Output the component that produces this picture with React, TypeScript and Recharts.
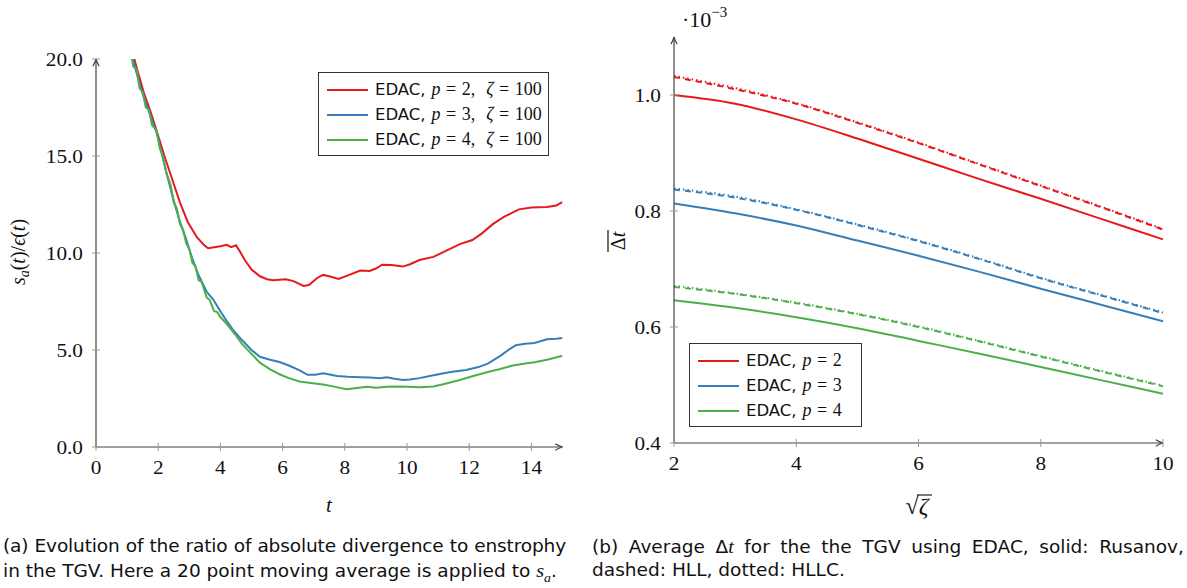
import { Legend, Line, LineChart, XAxis, YAxis } from "recharts";

const RED = "#e41a1c";
const BLUE = "#377eb8";
const GREEN = "#4daf4a";
const AXIS = "#444";
const TICK = "#999";
const SERIF = "'Liberation Serif', 'Times New Roman', serif";
const SANS = "'DejaVu Sans', sans-serif";

// (a) s_a(t)/eps(t), 20 point moving average
const tP2 = [1.15, 1.35, 1.55, 1.75, 1.95, 2.2, 2.45, 2.7, 2.95, 3.25, 3.45, 3.6, 3.8, 4.0, 4.2, 4.35, 4.5, 4.6, 4.8, 5.0, 5.27, 5.5, 5.7, 6.1, 6.35, 6.67, 6.85, 7.1, 7.3, 7.5, 7.8, 8.1, 8.5, 8.8, 9.0, 9.2, 9.5, 9.87, 10.1, 10.4, 10.85, 11.3, 11.7, 12.1, 12.4, 12.77, 13.1, 13.6, 14.0, 14.5, 14.8, 15.0];
const sP2 = [20.5, 19.3, 18.2, 17.3, 16.3, 15.0, 13.8, 12.6, 11.6, 10.8, 10.45, 10.25, 10.3, 10.35, 10.42, 10.3, 10.4, 10.15, 9.6, 9.15, 8.8, 8.65, 8.6, 8.65, 8.55, 8.3, 8.35, 8.7, 8.87, 8.8, 8.66, 8.85, 9.1, 9.07, 9.2, 9.4, 9.38, 9.3, 9.42, 9.64, 9.8, 10.15, 10.46, 10.67, 11.0, 11.5, 11.85, 12.25, 12.35, 12.37, 12.45, 12.62];

const tP3 = [1.1, 1.3, 1.5, 1.7, 1.95, 2.1, 2.27, 2.5, 2.7, 2.9, 3.1, 3.3, 3.56, 3.77, 4.0, 4.2, 4.4, 4.7, 5.0, 5.27, 5.6, 5.9, 6.2, 6.55, 6.8, 7.05, 7.3, 7.55, 7.75, 8.1, 8.5, 8.8, 9.13, 9.35, 9.6, 9.87, 10.1, 10.4, 10.85, 11.1, 11.4, 11.9, 12.3, 12.6, 13.0, 13.3, 13.5, 13.8, 14.1, 14.5, 14.8, 15.0];
const sP3 = [20.5, 19.3, 18.2, 17.3, 16.2, 15.2, 14.1, 12.7, 11.6, 10.7, 9.7, 8.85, 8.0, 7.6, 7.0, 6.5, 6.05, 5.5, 5.0, 4.65, 4.5, 4.38, 4.2, 3.95, 3.72, 3.72, 3.8, 3.72, 3.66, 3.62, 3.6, 3.58, 3.55, 3.6, 3.52, 3.45, 3.48, 3.55, 3.7, 3.78, 3.87, 3.97, 4.12, 4.3, 4.7, 5.05, 5.25, 5.32, 5.36, 5.55, 5.58, 5.62];

const tP4 = [1.1, 1.2, 1.3, 1.4, 1.5, 1.6, 1.7, 1.8, 1.95, 2.05, 2.15, 2.27, 2.4, 2.5, 2.6, 2.7, 2.8, 2.9, 3.0, 3.1, 3.2, 3.3, 3.4, 3.56, 3.65, 3.8, 3.9, 4.0, 4.2, 4.45, 4.7, 5.0, 5.27, 5.6, 5.9, 6.2, 6.55, 6.9, 7.3, 7.7, 8.05, 8.4, 8.7, 9.0, 9.35, 9.7, 10.0, 10.4, 10.85, 11.2, 11.7, 12.1, 12.6, 13.0, 13.4, 13.8, 14.1, 14.5, 15.0];
const sP4 = [20.5, 19.6, 19.5, 18.5, 18.3, 17.5, 17.4, 16.6, 16.3, 15.4, 15.0, 14.1, 13.5, 12.6, 12.3, 11.5, 11.2, 10.5, 10.2, 9.5, 9.3, 8.6, 8.5, 7.7, 7.6, 7.0, 6.95, 6.7, 6.35, 5.85, 5.3, 4.8, 4.35, 4.0, 3.75, 3.55, 3.38, 3.3, 3.22, 3.1, 2.98, 3.04, 3.1, 3.06, 3.1, 3.12, 3.1, 3.08, 3.12, 3.25, 3.45, 3.65, 3.87, 4.02, 4.2, 4.3, 4.37, 4.5, 4.7];

const tTicks = [0, 2, 4, 6, 8, 10, 12, 14];
const sTicks = [0, 5, 10, 15, 20];

// (b) mean time step (x 1e-3) against sqrt(zeta)
const sqrtZeta = [2, 3, 4, 5, 6, 7, 8, 9, 10];
const rusanovP2 = [1.0, 0.985, 0.958, 0.925, 0.89, 0.855, 0.821, 0.786, 0.751];
const hllP2 = [1.031, 1.01, 0.985, 0.952, 0.917, 0.88, 0.843, 0.806, 0.768];
const hllcP2 = [1.033, 1.012, 0.986, 0.953, 0.918, 0.881, 0.844, 0.807, 0.769];
const rusanovP3 = [0.813, 0.796, 0.775, 0.749, 0.723, 0.695, 0.666, 0.638, 0.61];
const hllP3 = [0.837, 0.823, 0.802, 0.776, 0.748, 0.717, 0.684, 0.654, 0.624];
const hllcP3 = [0.839, 0.825, 0.803, 0.777, 0.749, 0.718, 0.685, 0.655, 0.625];
const rusanovP4 = [0.646, 0.633, 0.617, 0.598, 0.576, 0.554, 0.531, 0.508, 0.485];
const hllP4 = [0.669, 0.657, 0.641, 0.622, 0.6, 0.575, 0.549, 0.523, 0.498];
const hllcP4 = [0.671, 0.658, 0.642, 0.623, 0.601, 0.576, 0.55, 0.524, 0.499];

const zetaTicks = [2, 4, 6, 8, 10];
const dtTicks = [0.4, 0.6, 0.8, 1.0];

const orders = [2, 3, 4];
const colors = [RED, BLUE, GREEN];

const zip = (ts: number[], ss: number[]) => ts.map((t, i) => ({ t, s: ss[i] }));
const seriesA = [zip(tP2, sP2), zip(tP3, sP3), zip(tP4, sP4)];

const dataB = sqrtZeta.map((z, i) => ({
  z,
  r2: rusanovP2[i], h2: hllP2[i], c2: hllcP2[i],
  r3: rusanovP3[i], h3: hllP3[i], c3: hllcP3[i],
  r4: rusanovP4[i], h4: hllP4[i], c4: hllcP4[i],
}));

const yTick = (digits: number) => (props: any) => {
  const { x, y, payload } = props;
  return (
    <g>
      <line x1={x - 4} x2={x + 4} y1={y} y2={y} stroke={TICK} />
      <text transform={`translate(${x - 13},${y + 6.5}) scale(1.15,1)`} textAnchor="end" fontFamily={SERIF} fontSize={18.5} fill="#111">
        {payload.value.toFixed(digits)}
      </text>
    </g>
  );
};

const xTick = (props: any) => {
  const { x, y, payload } = props;
  return (
    <g>
      <line x1={x} x2={x} y1={y - 4} y2={y + 4} stroke={TICK} />
      <text transform={`translate(${x},${y + 27}) scale(1.15,1)`} textAnchor="middle" fontFamily={SERIF} fontSize={18.5} fill="#111">
        {payload.value}
      </text>
    </g>
  );
};

const Arrow = ({ id }: { id: string }) => (
  <defs>
    <marker id={id} viewBox="0 0 10 10" refX="9" refY="5" markerWidth="9" markerHeight="9" markerUnits="userSpaceOnUse" orient="auto-start-reverse">
      <path d="M1,1.5 Q5,4 9,5 Q5,6 1,8.5" fill="none" stroke={AXIS} strokeWidth="1.3" />
    </marker>
  </defs>
);

const legendBox = (labels: string[][], w: number) => () => (
  <div style={{ border: "1px solid #333", background: "#fff", width: w, padding: "4px 0 3px 8px", boxSizing: "border-box" }}>
    {labels.map((parts, i) => (
      <div key={i} style={{ display: "flex", alignItems: "center", height: 25, whiteSpace: "nowrap" }}>
        <span style={{ display: "inline-block", width: 41, height: 2, background: colors[i], marginRight: 7 }} />
        <span style={{ fontFamily: SANS, fontSize: 16.5, color: "#111" }}>EDAC,</span>
        <span style={{ fontFamily: SERIF, fontSize: 18, color: "#111", marginLeft: 6, wordSpacing: 1 }}>
          <i>p</i> = {parts[0]}
          {parts[1] ? <>,&nbsp; <i>ζ</i> = {parts[1]}</> : null}
        </span>
      </div>
    ))}
  </div>
);

const PanelA = () => (
  <LineChart width={600} height={520} margin={{ top: 59, right: 37.5, bottom: 43, left: 36 }} style={{ position: "absolute", left: 0, top: 0 }}>
    <Arrow id="arrA" />
    <XAxis
      type="number"
      dataKey="t"
      domain={[0, 15]}
      ticks={tTicks}
      height={30}
      tickSize={0}
      tickMargin={0}
      tick={xTick}
      tickLine={false}
      axisLine={{ stroke: AXIS, strokeWidth: 1.2, markerEnd: "url(#arrA)" }}
      allowDataOverflow
    />
    <YAxis
      type="number"
      domain={[0, 20]}
      ticks={sTicks}
      width={60}
      tickSize={0}
      tickMargin={0}
      tick={yTick(1)}
      tickLine={false}
      axisLine={{ stroke: AXIS, strokeWidth: 1.2, markerStart: "url(#arrA)" }}
      allowDataOverflow
    />
    {seriesA.map((d, i) => (
      <Line
        key={i}
        data={d}
        dataKey="s"
        type="linear"
        stroke={colors[i]}
        strokeWidth={2}
        dot={false}
        isAnimationActive={false}
        name={`p${orders[i]}`}
      />
    ))}
    <Legend
      layout="vertical"
      align="center"
      verticalAlign="middle"
      wrapperStyle={{ left: 318, top: 72, width: 231 }}
      content={legendBox([["2", "100"], ["3", "100"], ["4", "100"]], 231)}
    />
    <text transform="translate(25,252) rotate(-90)" textAnchor="middle" fontFamily={SERIF} fontSize={20} fontStyle="italic" fill="#111">
      s<tspan fontSize={14} dy={4}>a</tspan><tspan dy={-4} fontStyle="normal">(</tspan>t<tspan fontStyle="normal">)/</tspan>ϵ<tspan fontStyle="normal">(</tspan>t<tspan fontStyle="normal">)</tspan>
    </text>
    <text x={329} y={512} textAnchor="middle" fontFamily={SERIF} fontSize={21} fontStyle="italic" fill="#111">t</text>
  </LineChart>
);

const bLines = [
  ["r", undefined],
  ["h", "6 5"],
  ["c", "1.5 3"],
] as const;

const PanelB = () => (
  <LineChart width={587} height={520} data={dataB} margin={{ top: 37, right: 24, bottom: 47, left: 14 }} style={{ position: "absolute", left: 600, top: 0 }}>
    <Arrow id="arrB" />
    <XAxis
      type="number"
      dataKey="z"
      domain={[2, 10]}
      ticks={zetaTicks}
      height={30}
      tickSize={0}
      tickMargin={0}
      tick={xTick}
      tickLine={false}
      axisLine={{ stroke: AXIS, strokeWidth: 1.2, markerEnd: "url(#arrB)" }}
    />
    <YAxis
      type="number"
      domain={[0.4, 1.1]}
      ticks={dtTicks}
      width={60}
      tickSize={0}
      tickMargin={0}
      tick={yTick(1)}
      tickLine={false}
      axisLine={{ stroke: AXIS, strokeWidth: 1.2, markerStart: "url(#arrB)" }}
      allowDataOverflow
    />
    {orders.map((p, i) =>
      bLines.map(([k, dash]) => (
        <Line
          key={`${k}${p}`}
          dataKey={`${k}${p}`}
          type="monotone"
          stroke={colors[i]}
          strokeWidth={2}
          strokeDasharray={dash}
          dot={false}
          isAnimationActive={false}
          legendType="none"
        />
      ))
    )}
    <Legend
      layout="vertical"
      align="center"
      verticalAlign="middle"
      wrapperStyle={{ left: 89, top: 343, width: 173 }}
      content={legendBox([["2"], ["3"], ["4"]], 173)}
    />
    <g transform="translate(25,241) rotate(-90)">
      <text x={0} y={0} textAnchor="middle" fontFamily={SERIF} fontSize={20} fill="#111">
        Δ<tspan fontStyle="italic">t</tspan>
      </text>
      <line x1={-11} x2={11} y1={-17} y2={-17} stroke="#111" strokeWidth={1.2} />
    </g>
    <text x={82} y={27} fontFamily={SERIF} fontSize={22} fill="#111">
      ·10<tspan fontSize={15} dy={-10}>−3</tspan>
    </text>
    <g transform="translate(317,514)">
      <text x={0} y={0} textAnchor="middle" fontFamily={SERIF} fontSize={24} fill="#111">
        √<tspan fontStyle="italic">ζ</tspan>
      </text>
      <line x1={0} x2={15} y1={-19} y2={-19} stroke="#111" strokeWidth={1.1} />
    </g>
  </LineChart>
);

const CAP_SCALE = 1.06;

const capStyle: React.CSSProperties = {
  position: "absolute",
  fontFamily: SANS,
  fontSize: 17.5,
  color: "#111",
  whiteSpace: "nowrap",
  textAlign: "justify",
  textAlignLast: "justify",
  transform: `scaleX(${CAP_SCALE})`,
  transformOrigin: "0 0",
};

export default function App() {
  return (
    <div style={{ position: "absolute", left: 0, top: 0, width: 1187, height: 588, background: "#fff", overflow: "hidden" }}>
      <PanelA />
      <PanelB />
      <div style={{ ...capStyle, left: 3, top: 536, width: 563 / CAP_SCALE, letterSpacing: -0.15 }}>(a) Evolution of the ratio of absolute divergence to enstrophy</div>
      <div style={{ ...capStyle, left: 3, top: 560, textAlignLast: "auto" }}>
        in the TGV. Here a 20 point moving average is applied to <span style={{ fontFamily: SERIF, fontStyle: "italic", fontSize: 19 }}>s<sub style={{ fontSize: 13 }}>a</sub></span>.
      </div>
      <div style={{ ...capStyle, left: 592, top: 536, width: 592 / CAP_SCALE }}>
        (b) Average Δ<span style={{ fontFamily: SERIF, fontStyle: "italic", fontSize: 19 }}>t</span> for the the TGV using EDAC, solid: Rusanov,
      </div>
      <div style={{ ...capStyle, left: 592, top: 560, textAlignLast: "auto" }}>dashed: HLL, dotted: HLLC.</div>
    </div>
  );
}
